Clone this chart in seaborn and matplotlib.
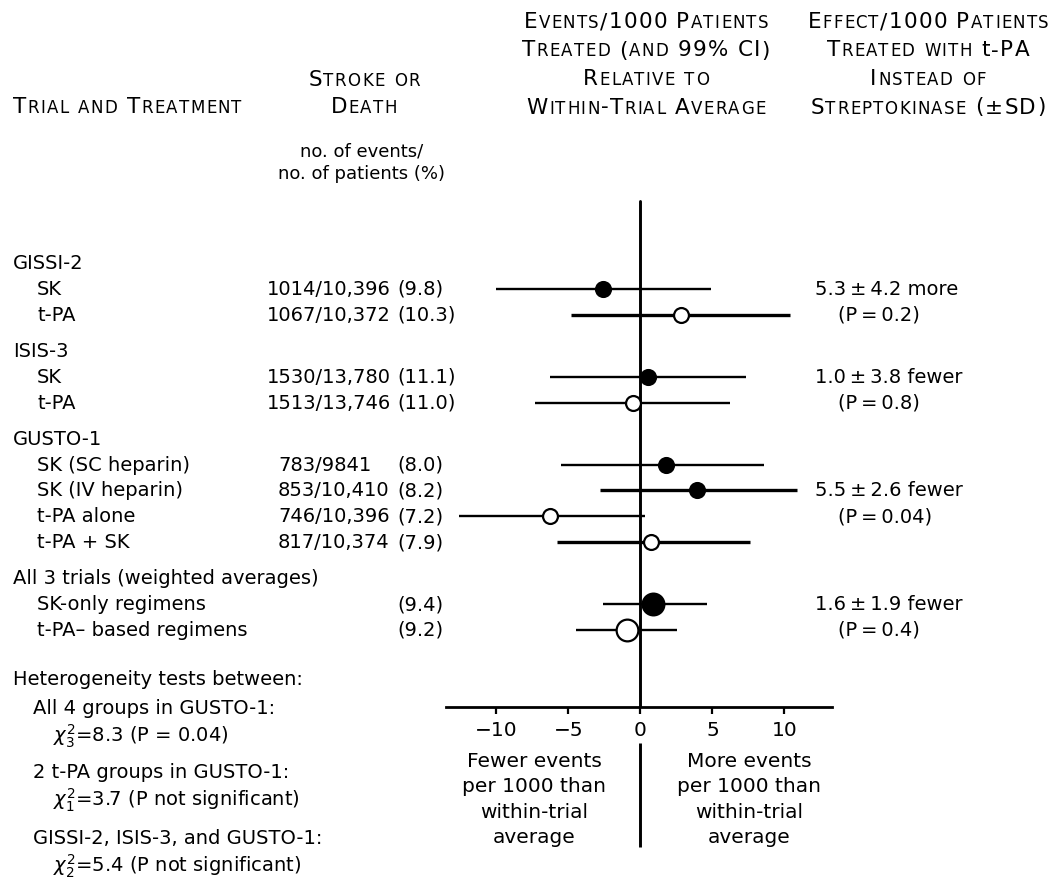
import matplotlib
matplotlib.use("Agg")
import pandas as pd
import matplotlib.pyplot as plt
import seaborn as sns

sns.set_style("ticks")
plt.rcParams['font.family'] = ['DejaVu Sans']
plt.rcParams['text.color'] = 'black'
plt.rcParams['xtick.color'] = 'black'
plt.rcParams['axes.edgecolor'] = 'black'

# -------------------------------
# Data
# -------------------------------
groups = ["GISSI-2", "ISIS-3", "GUSTO-1", "All 3 trials (weighted averages)"]
treatments = [["SK", "t-PA"],
              ["SK", "t-PA"],
              ["SK (SC heparin)", "SK (IV heparin)", "t-PA alone", "t-PA + SK"],
              ["SK-only regimens", "t-PA\u2013 based regimens"]]
counts = ["1014/10,396", "1067/10,372", "1530/13,780", "1513/13,746",
          "783/9841", "853/10,410", "746/10,396", "817/10,374", "", ""]
percents = ["(9.8)", "(10.3)", "(11.1)", "(11.0)", "(8.0)", "(8.2)", "(7.2)", "(7.9)", "(9.4)", "(9.2)"]
estimate = [-2.6, 2.8, 0.55, -0.55, 1.8, 3.95, -6.25, 0.75, 0.9, -0.9]
ci_low = [-10.0, -4.8, -6.3, -7.3, -5.5, -2.8, -12.6, -5.8, -2.6, -4.45]
ci_high = [4.9, 10.4, 7.3, 6.25, 8.6, 10.9, 0.35, 7.6, 4.6, 2.55]
regimen = ["SK", "t-PA", "SK", "t-PA", "SK", "SK", "t-PA", "t-PA", "SK", "t-PA"]
effects = ["5.3\u2009\u00b1\u20094.2 more", "1.0\u2009\u00b1\u20093.8 fewer",
           "5.5\u2009\u00b1\u20092.6 fewer", "1.6\u2009\u00b1\u20091.9 fewer"]
p_values = ["(P\u2009=\u20090.2)", "(P\u2009=\u20090.8)", "(P\u2009=\u20090.04)", "(P\u2009=\u20090.4)"]
effect_row = [0, 0, 1, 0]
x_ticks = [-10, -5, 0, 5, 10]
het_title = "Heterogeneity tests between:"
het_groups = ["All 4 groups in GUSTO-1:", "2 t-PA groups in GUSTO-1:", "GISSI-2, ISIS-3, and GUSTO-1:"]
het_stats = [r"$\chi^2_3$=8.3 (P = 0.04)", r"$\chi^2_1$=3.7 (P not significant)",
             r"$\chi^2_2$=5.4 (P not significant)"]
left_note = ["Fewer events", "per 1000 than", "within-trial", "average"]
right_note = ["More events", "per 1000 than", "within-trial", "average"]

# -------------------------------
# Layout (pixel rows)
# -------------------------------
W, H = 1060, 888
line_h, gap = 25.8, 10.5
y = 269
group_y, row_y, group_of_row = [], [], []
for gi, items in enumerate(treatments):
    group_y.append(y)
    for it in items:
        y += line_h
        row_y.append(y)
        group_of_row.append(gi)
    y += line_h + gap

df = pd.DataFrame({"label": [t for items in treatments for t in items],
                   "count": counts, "pct": percents, "est": estimate,
                   "lo": ci_low, "hi": ci_high, "regimen": regimen,
                   "group": group_of_row, "base": row_y})
df["y"] = df["base"] - 6
df["pooled"] = df["group"] == 3

fig = plt.figure(figsize=(W / 100, H / 100), dpi=100)
tax = fig.add_axes([0, 0, 1, 1])
tax.set_xlim(0, W)
tax.set_ylim(H, 0)
tax.axis("off")
renderer = fig.canvas.get_renderer()

_adv = {}
def advance(c, size):
    key = (c, size)
    if key not in _adv:
        t1 = tax.text(0, 0, "|" + c + "|", fontsize=size)
        t2 = tax.text(0, 0, "||", fontsize=size)
        _adv[key] = t1.get_window_extent(renderer).width - t2.get_window_extent(renderer).width
        t1.remove()
        t2.remove()
    return _adv[key]

def smallcaps(x, yb, s, big=15.5, small=12, track=1.3, ha="left"):
    # draw text in small caps, one glyph at a time
    texts = []
    cx = x
    literal = False
    for ch in s:
        if ch == "{":
            literal = True
            continue
        if ch == "}":
            literal = False
            continue
        if ch.islower() and not literal:
            size, c = small, ch.upper()
        else:
            size, c = big, ch
        if c != " ":
            texts.append(tax.text(cx, yb, c, fontsize=size, ha="left", va="baseline"))
        cx += advance(c, size) + track
    total = cx - track - x
    if ha == "center":
        for t in texts:
            t.set_x(t.get_position()[0] - total / 2)

# -------------------------------
# Headers
# -------------------------------
smallcaps(13, 113, "Trial and Treatment")
smallcaps(364, 86, "Stroke or", ha="center")
smallcaps(364, 113, "Death", ha="center")
hb = [28, 56.5, 85, 113.5]
for yb, s in zip(hb, ["Events/1000 Patients", "Treated (and 99% CI)", "Relative to", "Within-Trial Average"]):
    smallcaps(646, yb, s, ha="center")
for yb, s in zip(hb, ["Effect/1000 Patients", "Treated with {t}-PA", "Instead of", "Streptokinase (\u00b1SD)"]):
    smallcaps(928, yb, s, ha="center")
tax.text(362, 157, "no. of events/", fontsize=13, ha="center", va="baseline")
tax.text(362, 179, "no. of patients (%)", fontsize=13, ha="center", va="baseline")

# -------------------------------
# Row text
# -------------------------------
fs = 14
count_x = [267, 267, 278, 278]
for g, yb in zip(groups, group_y):
    tax.text(13, yb, g, fontsize=fs, va="baseline")
for _, r in df.iterrows():
    tax.text(37, r["base"], r["label"], fontsize=fs, va="baseline")
    if r["count"]:
        tax.text(count_x[r["group"]], r["base"], r["count"], fontsize=fs, va="baseline")
    tax.text(397, r["base"], r["pct"], fontsize=fs, va="baseline")

for gi, (e, p) in enumerate(zip(effects, p_values)):
    rows = df[df["group"] == gi]
    first = rows["base"].iloc[effect_row[gi]]
    second = rows["base"].iloc[effect_row[gi] + 1]
    tax.text(815, first, e, fontsize=fs, va="baseline")
    tax.text(838, second, p, fontsize=fs, va="baseline")

# heterogeneity
tax.text(13, 685, het_title, fontsize=fs, va="baseline")
for i, (g, s) in enumerate(zip(het_groups, het_stats)):
    yb = [714, 778, 844][i]
    tax.text(33, yb, g, fontsize=fs, va="baseline")
    tax.text(53, yb + 28, s, fontsize=fs, va="baseline")

for i, (a, b) in enumerate(zip(left_note, right_note)):
    tax.text(534, 767 + i * 25.3, a, fontsize=14.5, ha="center", va="baseline")
    tax.text(749, 767 + i * 25.3, b, fontsize=14.5, ha="center", va="baseline")

# -------------------------------
# Forest plot
# -------------------------------
axis_y = 707
ax = fig.add_axes([446 / W, (H - axis_y) / H, (832 - 446) / W, axis_y / H])
ax.patch.set_alpha(0)
thick = df["label"].isin(["t-PA + SK", "SK (IV heparin)"]) | ((df["group"] == 0) & (df["regimen"] == "t-PA"))
ax.hlines(df["y"], df["lo"], df["hi"], colors="black",
          linewidths=[2.4 if t else 1.7 for t in thick], zorder=2)
ax.axvline(0, ymin=0, ymax=(axis_y - 201) / axis_y, color="black", lw=2.1, zorder=2)
ax.vlines(0, 743, 847, colors="black", lw=2.1, clip_on=False)

for (reg, pool), sub in df.groupby(["regimen", "pooled"]):
    sns.scatterplot(data=sub, x="est", y="y", ax=ax,
                    s=245 if pool else 115,
                    color="black" if reg == "SK" else "white",
                    edgecolor="black", linewidth=1.6, zorder=3, legend=False)

ax.set_xlim(-13.5, 13.3)
ax.set_ylim(axis_y, 0)
ax.set_xticks(x_ticks)
ax.set_yticks([])
ax.set_xlabel("")
ax.set_ylabel("")
for side in ["left", "top", "right"]:
    ax.spines[side].set_visible(False)
ax.spines["bottom"].set_linewidth(2)
ax.tick_params(axis="x", direction="out", length=5, width=1.6, labelsize=14.5, pad=5, bottom=True)

plt.savefig("out.png", dpi=100)
